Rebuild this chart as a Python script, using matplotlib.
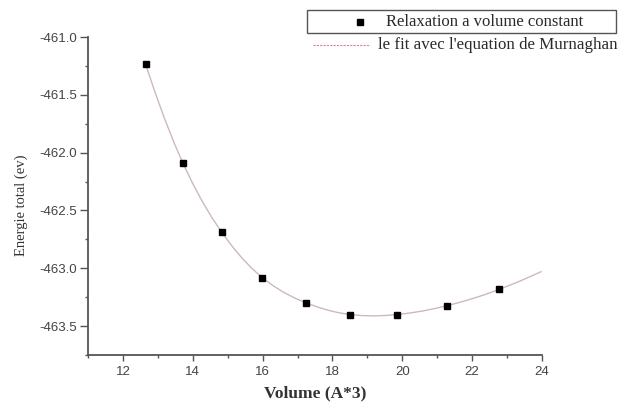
import matplotlib
matplotlib.use("Agg")
import matplotlib.pyplot as plt
from matplotlib.ticker import MultipleLocator
from matplotlib.lines import Line2D
from matplotlib.patches import Rectangle

plt.rcParams["axes.unicode_minus"] = False

# Data points (relaxation at constant volume)
volume = [12.65, 13.71, 14.83, 15.99, 17.24, 18.51, 19.86, 21.28, 22.77]
energy = [-461.236, -462.087, -462.689, -463.082, -463.298, -463.401, -463.400, -463.324, -463.183]

# Murnaghan fit curve
fit_volume = [12.65, 12.915, 13.18, 13.445, 13.71, 13.99, 14.27, 14.55, 14.83,
              15.12, 15.41, 15.70, 15.99, 16.30, 16.615, 16.93, 17.24, 17.56,
              17.875, 18.19, 18.51, 18.85, 19.185, 19.52, 19.86, 20.215, 20.57,
              20.925, 21.28, 21.65, 22.025, 22.40, 22.77, 23.37, 23.97]
fit_energy = [-461.236, -461.474, -461.696, -461.900, -462.087, -462.262, -462.421,
              -462.563, -462.689, -462.807, -462.912, -463.003, -463.082, -463.151,
              -463.210, -463.259, -463.298, -463.334, -463.363, -463.385, -463.401,
              -463.409, -463.412, -463.408, -463.400, -463.387, -463.370, -463.349,
              -463.324, -463.294, -463.261, -463.224, -463.183, -463.111, -463.030]

label_points = "Relaxation a volume constant"
label_fit = "le fit avec l'equation de Murnaghan"
xlabel = "Volume (A*3)"
ylabel = "Energie total (ev)"

W, H = 618, 404
fig = plt.figure(figsize=(W / 100, H / 100), dpi=100)
ax = fig.add_axes([88 / W, 49 / H, (542 - 88) / W, (355 - 37) / H])

fit_color = "#cdb9bb"
ax.plot(fit_volume, fit_energy, color=fit_color, lw=1.0, zorder=2)
ax.plot(volume, energy, ls="none", marker="s", ms=4.5, color="black", zorder=3)

ax.set_xlim(11, 24)
ax.set_ylim(-463.75, -461.0)
ax.xaxis.set_major_locator(MultipleLocator(2))
ax.xaxis.set_minor_locator(MultipleLocator(1))
ax.yaxis.set_major_locator(MultipleLocator(0.5))
ax.yaxis.set_minor_locator(MultipleLocator(0.25))

for s in ["top", "right"]:
    ax.spines[s].set_visible(False)
for s in ["left", "bottom"]:
    ax.spines[s].set_color("#555555")
    ax.spines[s].set_linewidth(1.3)

ax.tick_params(axis="y", which="major", direction="out", length=6, width=1,
               color="#555555", labelsize=9.5, labelcolor="#444444", pad=2)
ax.tick_params(axis="x", which="major", direction="out", length=4, width=1,
               color="#555555", labelsize=9.5, labelcolor="#444444", pad=4)
ax.tick_params(axis="both", which="minor", direction="out", length=2.5, width=1,
               color="#555555")
for lab in ax.get_xticklabels() + ax.get_yticklabels():
    lab.set_family("Liberation Sans")

ax.set_xlabel(xlabel, family="Liberation Serif", fontsize=12.5, fontweight="bold",
              color="#333333")
ax.xaxis.set_label_coords(0.5, -(393 - 355) / (355 - 37), transform=ax.transAxes)
ax.xaxis.label.set_va("center")
ax.set_ylabel(ylabel, family="Liberation Serif", fontsize=10.5, color="#333333")
ax.yaxis.set_label_coords(-(88 - 21) / (542 - 88), (355 - 205) / (355 - 37),
                          transform=ax.transAxes)
ax.yaxis.label.set_va("center")


def fx(px):
    return px / W


def fy(py):
    return 1 - py / H


# Legend (first entry, framed)
fig.add_artist(Rectangle((fx(307), fy(33)), fx(616) - fx(307), fy(10) - fy(33),
                         transform=fig.transFigure, fill=False,
                         edgecolor="#555555", lw=1.0))
fig.add_artist(Line2D([fx(360)], [fy(22)], transform=fig.transFigure, ls="none",
                      marker="s", ms=5, color="black"))
fig.text(fx(386), fy(22), label_points, family="Liberation Serif", fontsize=12,
         color="#2a2a2a", va="center", ha="left")

# Legend (second entry, unframed)
fig.add_artist(Line2D([fx(313), fx(370)], [fy(45), fy(45)], transform=fig.transFigure,
                      ls=(0, (2, 1)), lw=0.8, color="#d08a90"))
fig.text(fx(378), fy(45), label_fit, family="Liberation Serif", fontsize=12.2,
         color="#2a2a2a", va="center", ha="left")

fig.savefig("out.png", dpi=100)
